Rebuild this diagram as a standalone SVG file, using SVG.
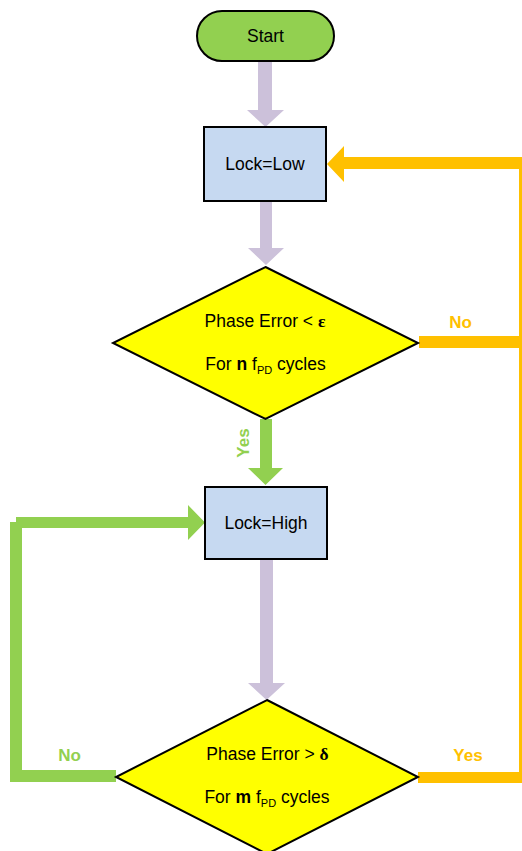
<svg xmlns="http://www.w3.org/2000/svg" width="522" height="851" viewBox="0 0 522 851">
  <style>
    .txt { font-family: "Liberation Sans", Arial, sans-serif; font-size: 17.5px; fill: #000; }
    .sym { font-family: "Liberation Serif", "Times New Roman", serif; font-weight: bold; }
    .sub { font-size: 11px; }
    .lbl { font-family: "Liberation Sans", Arial, sans-serif; font-size: 17px; font-weight: bold; }
    .box { fill: #C6D9F1; stroke: #000; stroke-width: 2; }
    .dec { fill: #FFFF00; stroke: #000; stroke-width: 2; }
    .flow { fill: #CCC1DA; }
    .yes { fill: #92D050; }
    .no { fill: #FFC000; }
  </style>

  <!-- connectors -->
  <g id="connectors">
    <!-- Start -> Lock=Low -->
    <path class="flow" d="M258,62 H272 V110 H284 L265.5,127 L247,110 H258 Z"/>
    <!-- Lock=Low -> first decision -->
    <path class="flow" d="M260,201 H272 V248 H284 L266,265 L248,248 H260 Z"/>
    <!-- first decision Yes -> Lock=High -->
    <path class="yes" d="M260,419 H272 V468 H283 L265.5,485 L248,468 H260 Z"/>
    <!-- Lock=High -> second decision -->
    <path class="flow" d="M260,559 H273 V683 H285 L266.5,700 L248,683 H260 Z"/>
    <!-- No loop back to Lock=Low (orange, along the right edge) -->
    <rect class="no" x="419" y="336" width="103" height="12"/>
    <rect class="no" x="418" y="772" width="104" height="11"/>
    <rect class="no" x="519" y="157" width="3" height="626"/>
    <path class="no" d="M522,157 V169 H344 V182 L327,164 L344,146 V157 Z"/>
    <!-- No loop back to Lock=High (green, along the left edge) -->
    <rect class="yes" x="10" y="770" width="106" height="12"/>
    <rect class="yes" x="10" y="522" width="12" height="260"/>
    <path class="yes" d="M16,517 H188 V505 L205,522.5 L188,540 V528 H16 Z"/>
    <!-- branch labels -->
    <text class="lbl" x="460.5" y="328" text-anchor="middle" fill="#FFC000">No</text>
    <text class="lbl" x="249" y="443" text-anchor="middle" fill="#92D050" transform="rotate(-90 249 443)">Yes</text>
    <text class="lbl" x="69.5" y="761" text-anchor="middle" fill="#92D050">No</text>
    <text class="lbl" x="468" y="761" text-anchor="middle" fill="#FFC000">Yes</text>
  </g>

  <g id="start">
    <rect x="197" y="11" width="137" height="50" rx="25" ry="25" fill="#92D050" stroke="#000" stroke-width="2"/>
    <text class="txt" x="265.5" y="42" text-anchor="middle">Start</text>
  </g>

  <g id="lock-low">
    <rect class="box" x="204" y="127" width="122" height="74"/>
    <text class="txt" x="265" y="170" text-anchor="middle">Lock=Low</text>
  </g>

  <g id="check-lock">
    <polygon class="dec" points="265.5,267 418,343 265.5,419 113,343"/>
    <text class="txt" x="265" y="327" text-anchor="middle">Phase Error &lt; <tspan class="sym">ε</tspan></text>
    <text class="txt" x="265.5" y="370" text-anchor="middle">For <tspan font-weight="bold">n</tspan> f<tspan class="sub" dy="4">PD</tspan><tspan dy="-4"> cycles</tspan></text>
  </g>

  <g id="lock-high">
    <rect class="box" x="205" y="487" width="122" height="72"/>
    <text class="txt" x="266" y="529" text-anchor="middle">Lock=High</text>
  </g>

  <g id="check-unlock">
    <polygon class="dec" points="267,700 418,777 267,854 116,777"/>
    <text class="txt" x="267.5" y="760" text-anchor="middle">Phase Error &gt; <tspan class="sym">δ</tspan></text>
    <text class="txt" x="267" y="803" text-anchor="middle">For <tspan font-weight="bold">m</tspan> f<tspan class="sub" dy="4">PD</tspan><tspan dy="-4"> cycles</tspan></text>
  </g>
</svg>
